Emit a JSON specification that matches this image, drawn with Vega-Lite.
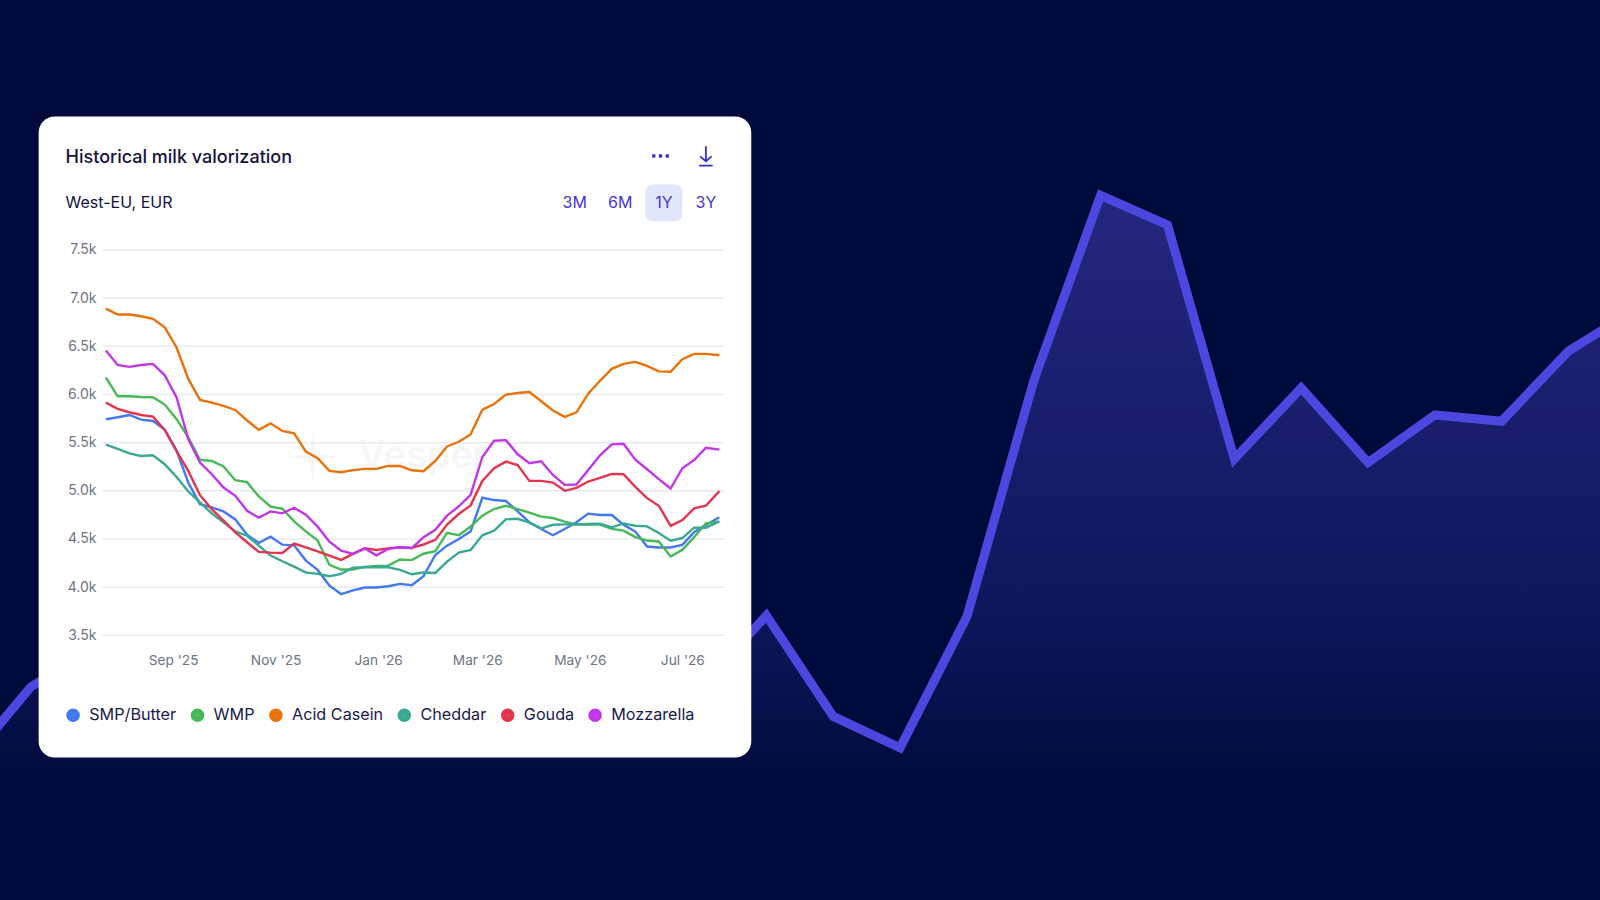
{
  "$schema": "https://vega.github.io/schema/vega-lite/v6.json",
  "width": 1600,
  "height": 900,
  "autosize": {"type": "fit", "contains": "padding"},
  "padding": 0,
  "background": "#020a3b",
  "config": {"view": {"stroke": null}},
  "resolve": {"scale": {"x": "independent", "y": "independent"}, "axis": {"x": "independent", "y": "independent"}},
  "layer": [
    {
      "data": {"values": [
        {"period": 0, "index": 14.8}, {"period": 1, "index": 23.7}, {"period": 2, "index": 28}, {"period": 3, "index": 36},
        {"period": 4, "index": 33}, {"period": 5, "index": 40}, {"period": 6, "index": 38}, {"period": 7, "index": 31},
        {"period": 8, "index": 28}, {"period": 9, "index": 30}, {"period": 10, "index": 26}, {"period": 11, "index": 23.5},
        {"period": 12, "index": 31.6}, {"period": 13, "index": 20.4}, {"period": 14, "index": 16.9}, {"period": 15, "index": 31.5},
        {"period": 16, "index": 57.7}, {"period": 17, "index": 78.3}, {"period": 18, "index": 75.0}, {"period": 19, "index": 49.0},
        {"period": 20, "index": 56.9}, {"period": 21, "index": 48.6}, {"period": 22, "index": 53.9}, {"period": 23, "index": 53.2},
        {"period": 24, "index": 61.0}, {"period": 25, "index": 65.6}
      ]},
      "encoding": {
        "x": {"field": "period", "type": "quantitative", "axis": null, "scale": {"domain": [0.536, 24.47], "nice": false, "zero": false}},
        "y": {"field": "index", "type": "quantitative", "axis": null, "scale": {"domain": [0, 100], "nice": false}}
      },
      "layer": [
        {
          "mark": {
            "type": "area",
            "clip": true,
            "color": {
              "gradient": "linear", "x1": 0, "y1": 0, "x2": 0, "y2": 1,
              "stops": [
                {"offset": 0, "color": "#26267f"},
                {"offset": 0.6, "color": "#10155b"},
                {"offset": 0.84, "color": "#020a3b"},
                {"offset": 1, "color": "#020a3b"}
              ]
            }
          }
        },
        {"mark": {"type": "line", "clip": true, "color": "#4d47e0", "strokeWidth": 9, "strokeJoin": "miter"}}
      ]
    },
    {
      "encoding": {
        "x": {
          "field": "date", "type": "temporal", "title": null,
          "scale": {"domain": [{"year": 2025, "month": 5, "date": 21}, {"year": 2027, "month": 12, "date": 29}], "nice": false},
          "axis": {
            "orient": "bottom", "offset": -247, "domain": false, "ticks": false, "grid": false, "labelPadding": 0,
            "zindex": 1, "format": "%b '%y", "labelFont": "Inter", "labelFontSize": 13.7, "labelColor": "#6e7484", "labelOverlap": false, "labelFlush": false, "title": null,
            "values": [
              {"year": 2025, "month": 9, "date": 1}, {"year": 2025, "month": 11, "date": 1}, {"year": 2026, "month": 1, "date": 1},
              {"year": 2026, "month": 3, "date": 1}, {"year": 2026, "month": 5, "date": 1}, {"year": 2026, "month": 7, "date": 1}
            ]
          }
        },
        "y": {
          "field": "level", "type": "quantitative", "title": null,
          "scale": {"domain": [754, 10093], "nice": false, "zero": false},
          "axis": {
            "orient": "left", "offset": -96, "domain": false, "ticks": false, "grid": false, "labelPadding": 0,
            "zindex": 1, "format": ".2s", "labelFont": "Inter", "labelFontSize": 14, "labelColor": "#6e7484", "title": null,
            "values": [3500, 4000, 4500, 5000, 5500, 6000, 6500, 7000, 7500]
          }
        }
      },
      "layer": [
        {
          "data": {"values": [{"date": "2025-06-13", "date_end": "2026-08-11", "level": 8885, "level_end": 2232}]},
          "mark": {"type": "rect", "color": "#ffffff", "cornerRadius": 16},
          "encoding": {"x2": {"field": "date_end"}, "y2": {"field": "level_end"}}
        },
        {
          "data": {"values": [{"date": "2026-06-09", "date_end": "2026-07-01", "level": 8178, "level_end": 7797}]},
          "mark": {"type": "rect", "color": "#e2e6fb", "cornerRadius": 7},
          "encoding": {"x2": {"field": "date_end"}, "y2": {"field": "level_end"}}
        },
        {
          "data": {"values": [{"date": "2025-12-20", "level": 5354, "label": "Vesper"}]},
          "mark": {"type": "text", "align": "left", "baseline": "middle", "font": "Inter", "fontSize": 38, "fontWeight": 600, "color": "#f6f6f9"},
          "encoding": {"text": {"field": "label"}}
        },
        {
          "data": {"values": [{"date": "2025-11-23", "level": 5354}]},
          "mark": {"type": "point", "filled": true, "opacity": 1, "color": "#f6f6f9", "size": 2500, "shape": "M0,-1 L0.12,-0.12 L1,0 L0.12,0.12 L0,1 L-0.12,0.12 L-1,0 L-0.12,-0.12 Z"}
        },
        {
          "data": {"values": [
            {"date": "2025-07-21", "date_end": "2026-07-26", "level": 3500},
            {"date": "2025-07-21", "date_end": "2026-07-26", "level": 4000},
            {"date": "2025-07-21", "date_end": "2026-07-26", "level": 4500},
            {"date": "2025-07-21", "date_end": "2026-07-26", "level": 5000},
            {"date": "2025-07-21", "date_end": "2026-07-26", "level": 5500},
            {"date": "2025-07-21", "date_end": "2026-07-26", "level": 6000},
            {"date": "2025-07-21", "date_end": "2026-07-26", "level": 6500},
            {"date": "2025-07-21", "date_end": "2026-07-26", "level": 7000},
            {"date": "2025-07-21", "date_end": "2026-07-26", "level": 7500}
          ]},
          "mark": {"type": "rule", "color": "#e8eaef", "strokeWidth": 1.5},
          "encoding": {"x2": {"field": "date_end"}}
        },
        {
          "data": {"values": [
            {"date":"2025-07-23","SMP/Butter":5742,"WMP":6178,"Acid Casein":6891,"Cheddar":5479,"Gouda":5915,"Mozzarella":6455},
            {"date":"2025-07-30","SMP/Butter":5763,"WMP":5981,"Acid Casein":6829,"Cheddar":5434,"Gouda":5850,"Mozzarella":6306},
            {"date":"2025-08-06","SMP/Butter":5787,"WMP":5981,"Acid Casein":6829,"Cheddar":5389,"Gouda":5815,"Mozzarella":6286},
            {"date":"2025-08-13","SMP/Butter":5739,"WMP":5974,"Acid Casein":6811,"Cheddar":5362,"Gouda":5787,"Mozzarella":6306},
            {"date":"2025-08-20","SMP/Butter":5725,"WMP":5971,"Acid Casein":6784,"Cheddar":5369,"Gouda":5770,"Mozzarella":6317},
            {"date":"2025-08-27","SMP/Butter":5635,"WMP":5895,"Acid Casein":6697,"Cheddar":5276,"Gouda":5632,"Mozzarella":6199},
            {"date":"2025-09-03","SMP/Butter":5420,"WMP":5746,"Acid Casein":6490,"Cheddar":5145,"Gouda":5414,"Mozzarella":5971},
            {"date":"2025-09-10","SMP/Butter":5086,"WMP":5555,"Acid Casein":6161,"Cheddar":4993,"Gouda":5207,"Mozzarella":5538},
            {"date":"2025-09-17","SMP/Butter":4862,"WMP":5321,"Acid Casein":5943,"Cheddar":4879,"Gouda":4955,"Mozzarella":5293},
            {"date":"2025-09-24","SMP/Butter":4828,"WMP":5310,"Acid Casein":5915,"Cheddar":4766,"Gouda":4810,"Mozzarella":5172},
            {"date":"2025-10-01","SMP/Butter":4786,"WMP":5252,"Acid Casein":5881,"Cheddar":4672,"Gouda":4690,"Mozzarella":5034},
            {"date":"2025-10-08","SMP/Butter":4703,"WMP":5110,"Acid Casein":5839,"Cheddar":4579,"Gouda":4569,"Mozzarella":4948},
            {"date":"2025-10-15","SMP/Butter":4545,"WMP":5090,"Acid Casein":5730,"Cheddar":4534,"Gouda":4466,"Mozzarella":4793},
            {"date":"2025-10-22","SMP/Butter":4459,"WMP":4941,"Acid Casein":5632,"Cheddar":4431,"Gouda":4366,"Mozzarella":4721},
            {"date":"2025-10-29","SMP/Butter":4524,"WMP":4835,"Acid Casein":5700,"Cheddar":4328,"Gouda":4359,"Mozzarella":4786},
            {"date":"2025-11-05","SMP/Butter":4441,"WMP":4814,"Acid Casein":5621,"Cheddar":4269,"Gouda":4355,"Mozzarella":4766},
            {"date":"2025-11-12","SMP/Butter":4434,"WMP":4683,"Acid Casein":5597,"Cheddar":4214,"Gouda":4452,"Mozzarella":4824},
            {"date":"2025-11-19","SMP/Butter":4276,"WMP":4579,"Acid Casein":5407,"Cheddar":4152,"Gouda":4414,"Mozzarella":4752},
            {"date":"2025-11-26","SMP/Butter":4179,"WMP":4483,"Acid Casein":5338,"Cheddar":4138,"Gouda":4372,"Mozzarella":4628},
            {"date":"2025-12-03","SMP/Butter":4017,"WMP":4231,"Acid Casein":5207,"Cheddar":4114,"Gouda":4328,"Mozzarella":4472},
            {"date":"2025-12-10","SMP/Butter":3928,"WMP":4183,"Acid Casein":5193,"Cheddar":4138,"Gouda":4283,"Mozzarella":4379},
            {"date":"2025-12-17","SMP/Butter":3966,"WMP":4183,"Acid Casein":5214,"Cheddar":4203,"Gouda":4345,"Mozzarella":4345},
            {"date":"2025-12-24","SMP/Butter":3997,"WMP":4210,"Acid Casein":5228,"Cheddar":4207,"Gouda":4403,"Mozzarella":4403},
            {"date":"2025-12-31","SMP/Butter":3997,"WMP":4221,"Acid Casein":5228,"Cheddar":4207,"Gouda":4386,"Mozzarella":4331},
            {"date":"2026-01-07","SMP/Butter":4010,"WMP":4224,"Acid Casein":5259,"Cheddar":4207,"Gouda":4403,"Mozzarella":4397},
            {"date":"2026-01-14","SMP/Butter":4034,"WMP":4288,"Acid Casein":5258,"Cheddar":4179,"Gouda":4415,"Mozzarella":4415},
            {"date":"2026-01-21","SMP/Butter":4020,"WMP":4281,"Acid Casein":5213,"Cheddar":4134,"Gouda":4408,"Mozzarella":4405},
            {"date":"2026-01-28","SMP/Butter":4114,"WMP":4347,"Acid Casein":5203,"Cheddar":4152,"Gouda":4443,"Mozzarella":4519},
            {"date":"2026-02-04","SMP/Butter":4334,"WMP":4374,"Acid Casein":5310,"Cheddar":4148,"Gouda":4491,"Mozzarella":4595},
            {"date":"2026-02-11","SMP/Butter":4431,"WMP":4563,"Acid Casein":5461,"Cheddar":4265,"Gouda":4649,"Mozzarella":4742},
            {"date":"2026-02-18","SMP/Butter":4500,"WMP":4539,"Acid Casein":5509,"Cheddar":4359,"Gouda":4759,"Mozzarella":4838},
            {"date":"2026-02-25","SMP/Butter":4579,"WMP":4629,"Acid Casein":5585,"Cheddar":4386,"Gouda":4849,"Mozzarella":4959},
            {"date":"2026-03-04","SMP/Butter":4928,"WMP":4742,"Acid Casein":5843,"Cheddar":4538,"Gouda":5103,"Mozzarella":5351},
            {"date":"2026-03-11","SMP/Butter":4904,"WMP":4811,"Acid Casein":5901,"Cheddar":4586,"Gouda":5234,"Mozzarella":5520},
            {"date":"2026-03-18","SMP/Butter":4894,"WMP":4845,"Acid Casein":5998,"Cheddar":4704,"Gouda":5303,"Mozzarella":5526},
            {"date":"2026-03-25","SMP/Butter":4787,"WMP":4811,"Acid Casein":6015,"Cheddar":4710,"Gouda":5268,"Mozzarella":5379},
            {"date":"2026-04-01","SMP/Butter":4673,"WMP":4773,"Acid Casein":6025,"Cheddar":4669,"Gouda":5103,"Mozzarella":5286},
            {"date":"2026-04-08","SMP/Butter":4604,"WMP":4732,"Acid Casein":5929,"Cheddar":4610,"Gouda":5103,"Mozzarella":5306},
            {"date":"2026-04-15","SMP/Butter":4539,"WMP":4718,"Acid Casein":5833,"Cheddar":4648,"Gouda":5086,"Mozzarella":5165},
            {"date":"2026-04-22","SMP/Butter":4604,"WMP":4680,"Acid Casein":5767,"Cheddar":4652,"Gouda":5000,"Mozzarella":5062},
            {"date":"2026-04-29","SMP/Butter":4673,"WMP":4649,"Acid Casein":5815,"Cheddar":4652,"Gouda":5031,"Mozzarella":5065},
            {"date":"2026-05-06","SMP/Butter":4763,"WMP":4649,"Acid Casein":6008,"Cheddar":4655,"Gouda":5096,"Mozzarella":5217},
            {"date":"2026-05-13","SMP/Butter":4749,"WMP":4649,"Acid Casein":6142,"Cheddar":4659,"Gouda":5134,"Mozzarella":5368},
            {"date":"2026-05-20","SMP/Butter":4749,"WMP":4605,"Acid Casein":6266,"Cheddar":4621,"Gouda":5176,"Mozzarella":5482},
            {"date":"2026-05-27","SMP/Butter":4649,"WMP":4587,"Acid Casein":6318,"Cheddar":4662,"Gouda":5172,"Mozzarella":5489},
            {"date":"2026-06-03","SMP/Butter":4577,"WMP":4519,"Acid Casein":6338,"Cheddar":4638,"Gouda":5041,"Mozzarella":5324},
            {"date":"2026-06-10","SMP/Butter":4422,"WMP":4484,"Acid Casein":6297,"Cheddar":4631,"Gouda":4924,"Mozzarella":5224},
            {"date":"2026-06-17","SMP/Butter":4412,"WMP":4474,"Acid Casein":6239,"Cheddar":4562,"Gouda":4845,"Mozzarella":5121},
            {"date":"2026-06-24","SMP/Butter":4412,"WMP":4319,"Acid Casein":6235,"Cheddar":4483,"Gouda":4636,"Mozzarella":5024},
            {"date":"2026-07-01","SMP/Butter":4439,"WMP":4388,"Acid Casein":6366,"Cheddar":4510,"Gouda":4697,"Mozzarella":5234},
            {"date":"2026-07-08","SMP/Butter":4570,"WMP":4519,"Acid Casein":6421,"Cheddar":4617,"Gouda":4818,"Mozzarella":5320},
            {"date":"2026-07-15","SMP/Butter":4646,"WMP":4663,"Acid Casein":6421,"Cheddar":4617,"Gouda":4845,"Mozzarella":5447},
            {"date":"2026-07-23","SMP/Butter":4725,"WMP":4680,"Acid Casein":6407,"Cheddar":4683,"Gouda":4997,"Mozzarella":5427}
          ]},
          "transform": [
            {"fold": ["SMP/Butter", "WMP", "Acid Casein", "Cheddar", "Gouda", "Mozzarella"], "as": ["product", "level"]}
          ],
          "mark": {"type": "line", "strokeWidth": 2.4},
          "encoding": {
            "color": {
              "field": "product", "type": "nominal",
              "scale": {
                "domain": ["SMP/Butter", "WMP", "Acid Casein", "Cheddar", "Gouda", "Mozzarella"],
                "range": ["#4278f2", "#47b957", "#ea720b", "#3aa993", "#e3354f", "#c236ea"]
              },
              "legend": {
                "orient": "none", "legendX": 65, "legendY": 707, "direction": "horizontal", "title": null, "zindex": 1,
                "symbolType": "circle", "symbolSize": 40, "symbolStrokeWidth": 7.2, "symbolOpacity": 1,
                "labelFont": "Inter", "labelFontSize": 16.2, "labelColor": "#1b1a4b", "labelOffset": 8, "columnPadding": 2.4
              }
            }
          }
        },
        {
          "data": {"values": [{"date": "2025-06-29", "level": 8450, "label": "Historical milk valorization"}]},
          "mark": {"type": "text", "align": "left", "baseline": "middle", "font": "Inter", "fontSize": 18, "fontWeight": 500, "color": "#14123f"},
          "encoding": {"text": {"field": "label"}}
        },
        {
          "data": {"values": [{"date": "2025-06-29", "level": 7988, "label": "West-EU, EUR"}]},
          "mark": {"type": "text", "align": "left", "baseline": "middle", "font": "Inter", "fontSize": 16, "fontWeight": 400, "color": "#14123f"},
          "encoding": {"text": {"field": "label"}}
        },
        {
          "data": {"values": [
            {"date": "2026-04-28", "level": 7988, "label": "3M"},
            {"date": "2026-05-25", "level": 7988, "label": "6M"},
            {"date": "2026-06-20", "level": 7988, "label": "1Y"},
            {"date": "2026-07-15", "level": 7988, "label": "3Y"}
          ]},
          "mark": {"type": "text", "align": "center", "baseline": "middle", "font": "Inter", "fontSize": 16, "fontWeight": 400, "color": "#4136d6"},
          "encoding": {"text": {"field": "label"}}
        },
        {
          "data": {"values": [
            {"date": "2026-06-14", "level": 8475},
            {"date": "2026-06-18", "level": 8475},
            {"date": "2026-06-22", "level": 8475}
          ]},
          "mark": {"type": "point", "filled": true, "opacity": 1, "shape": "circle", "size": 14, "color": "#3a30c9"}
        },
        {
          "data": {"values": [{"date": "2026-07-15", "level": 8475}]},
          "mark": {"type": "point", "filled": false, "opacity": 1, "strokeWidth": 1.8, "size": 370, "color": "#3a30c9", "shape": "M0,-1 L0,0.55 M-0.6,0.05 L0,0.55 L0.6,0.05 M-0.7,1 L0.7,1"}
        }
      ]
    }
  ]
}
